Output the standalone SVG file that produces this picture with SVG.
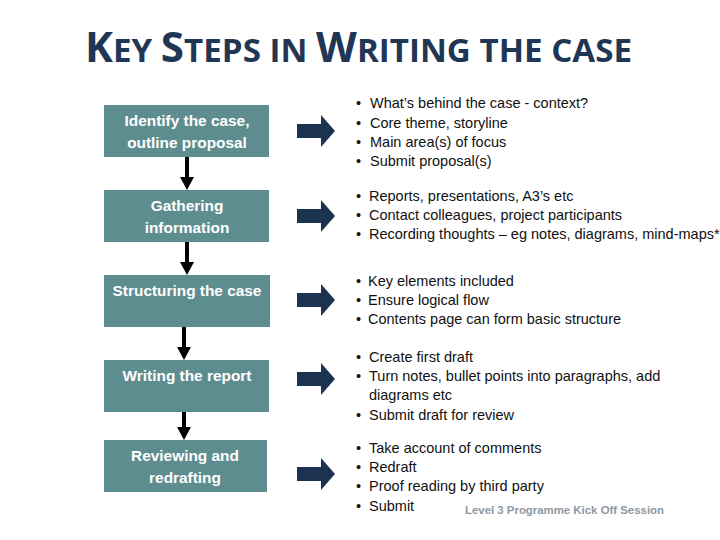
<svg xmlns="http://www.w3.org/2000/svg" width="720" height="540" viewBox="0 0 720 540">
<style>
.box{fill:#5E8D8F}
.bt{font-family:"Liberation Sans",Arial,sans-serif;font-weight:bold;font-size:15.4px;fill:#ffffff;text-anchor:middle}
.tx{font-family:"Liberation Sans",Arial,sans-serif;font-size:14.5px;fill:#111111}
.title{font-family:"Open Sans","Liberation Sans",sans-serif;font-weight:bold;fill:#1F3654}
.blk{fill:#1B3251}
.vl{stroke:#000;stroke-width:4}
.vh{fill:#000}
</style>
<rect width="720" height="540" fill="#ffffff"/>
<text class="title" x="85" y="62" font-size="33" textLength="547" lengthAdjust="spacingAndGlyphs"><tspan font-size="42">K</tspan>EY <tspan font-size="42">S</tspan>TEPS IN <tspan font-size="42">W</tspan>RITING THE CASE</text>

<g id="n1"><rect class="box" x="104" y="105" width="165" height="52"/><text class="bt" x="187" y="126">Identify the case,</text><text class="bt" x="187" y="148">outline proposal</text></g>
<g id="n2"><rect class="box" x="104" y="190" width="165" height="52"/><text class="bt" x="187" y="211">Gathering</text><text class="bt" x="187" y="233">information</text></g>
<g id="n3"><rect class="box" x="104" y="275" width="166" height="52"/><text class="bt" x="187" y="296">Structuring the case</text></g>
<g id="n4"><rect class="box" x="104" y="360" width="165" height="52"/><text class="bt" x="187" y="381">Writing the report</text></g>
<g id="n5"><rect class="box" x="104" y="440" width="163" height="52"/><text class="bt" x="185" y="461">Reviewing and</text><text class="bt" x="185" y="483">redrafting</text></g>

<g id="connectors">
<line class="vl" x1="187" y1="157" x2="187" y2="178"/><polygon class="vh" points="180,177 194,177 187,190"/>
<line class="vl" x1="187" y1="242" x2="187" y2="263"/><polygon class="vh" points="180,262 194,262 187,275"/>
<line class="vl" x1="184" y1="327" x2="184" y2="348"/><polygon class="vh" points="177,347 191,347 184,360"/>
<line class="vl" x1="184" y1="412" x2="184" y2="428"/><polygon class="vh" points="177,427 191,427 184,440"/>
<polygon class="blk" points="297,124 321,124 321,115 335,131 321,147 321,138 297,138"/>
<polygon class="blk" points="297,209 321,209 321,200 335,216 321,232 321,223 297,223"/>
<polygon class="blk" points="297,293 321,293 321,284 335,300 321,316 321,307 297,307"/>
<polygon class="blk" points="297,372 321,372 321,363 335,379 321,395 321,386 297,386"/>
<polygon class="blk" points="297,467 321,467 321,458 335,474 321,490 321,481 297,481"/>
</g>

<g id="bullets" class="tx">
<text x="356" y="108">•</text><text x="370" y="108">What’s behind the case - context?</text>
<text x="356" y="128">•</text><text x="370" y="128">Core theme, storyline</text>
<text x="356" y="147">•</text><text x="370" y="147">Main area(s) of focus</text>
<text x="356" y="166">•</text><text x="370" y="166">Submit proposal(s)</text>

<text x="356" y="201">•</text><text x="369" y="201">Reports, presentations, A3’s etc</text>
<text x="356" y="220">•</text><text x="369" y="220">Contact colleagues, project participants</text>
<text x="356" y="239">•</text><text x="369" y="239">Recording thoughts – eg notes, diagrams, mind-maps*</text>

<text x="356" y="286">•</text><text x="368" y="286">Key elements included</text>
<text x="356" y="305">•</text><text x="368" y="305">Ensure logical flow</text>
<text x="356" y="324">•</text><text x="368" y="324">Contents page can form basic structure</text>

<text x="356" y="362">•</text><text x="369" y="362">Create first draft</text>
<text x="356" y="381">•</text><text x="369" y="381">Turn notes, bullet points into paragraphs, add</text>
<text x="369" y="400">diagrams etc</text>
<text x="356" y="420">•</text><text x="369" y="420">Submit draft for review</text>

<text x="356" y="453">•</text><text x="369" y="453">Take account of comments</text>
<text x="356" y="472">•</text><text x="369" y="472">Redraft</text>
<text x="356" y="491">•</text><text x="369" y="491">Proof reading by third party</text>
<text x="356" y="511">•</text><text x="369" y="511">Submit</text>
</g>
<text x="465" y="514" font-family="Liberation Sans,Arial,sans-serif" font-weight="bold" font-size="11.5" textLength="199" lengthAdjust="spacingAndGlyphs" fill="#8E98A3">Level 3 Programme Kick Off Session</text>
</svg>
